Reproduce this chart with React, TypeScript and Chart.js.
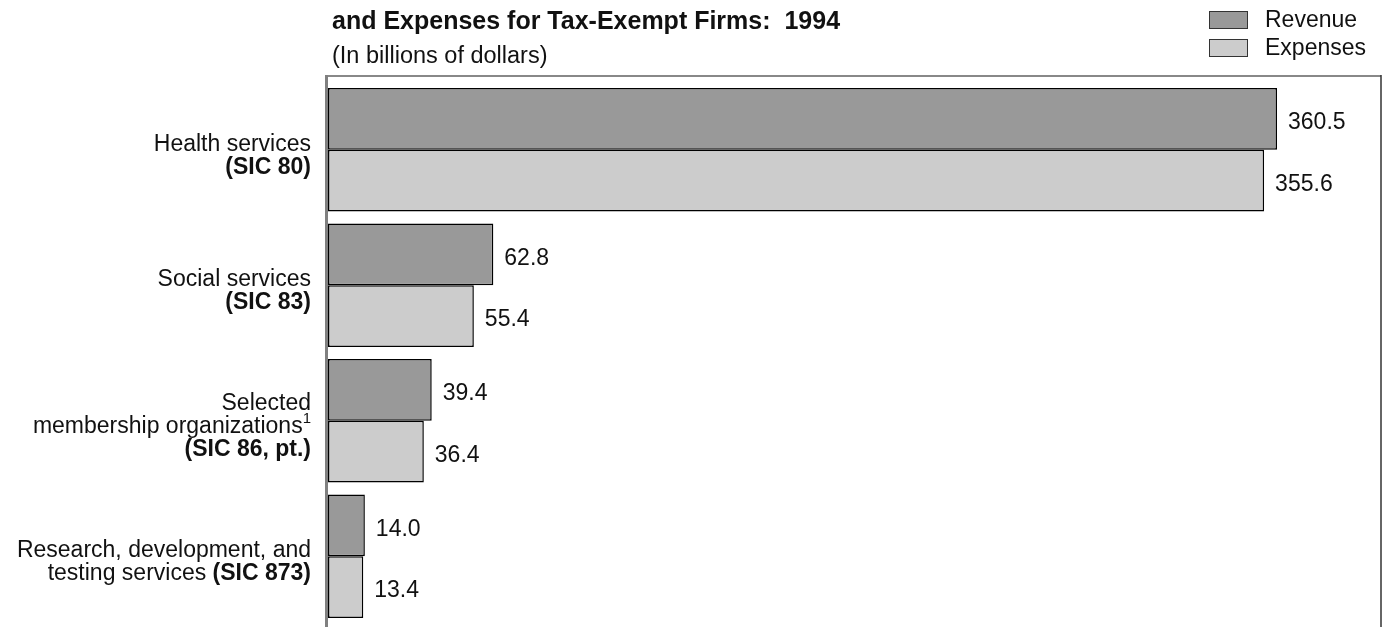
import React, { useEffect, useRef } from "react";
import { Chart, registerables } from "chart.js";

Chart.register(...registerables);

const categories = [
  "Health services (SIC 80)",
  "Social services (SIC 83)",
  "Selected membership organizations (SIC 86, pt.)",
  "Research, development, and testing services (SIC 873)",
];

// Display lines for category labels: [text, bold, superscript]
const categoryLines: [string, boolean, boolean][][][] = [
  [[["Health services", false, false]], [["(SIC 80)", true, false]]],
  [[["Social services", false, false]], [["(SIC 83)", true, false]]],
  [
    [["Selected", false, false]],
    [["membership organizations", false, false], ["1", false, true]],
    [["(SIC 86, pt.)", true, false]],
  ],
  [
    [["Research, development, and", false, false]],
    [["testing services ", false, false], ["(SIC 873)", true, false]],
  ],
];

const revenue = [360.5, 62.8, 39.4, 14.0];
const expenses = [355.6, 55.4, 36.4, 13.4];

const seriesNames = ["Revenue", "Expenses"];
const seriesColors = ["#999999", "#cccccc"];

const titleText = "and Expenses for Tax-Exempt Firms:  1994";
const subtitleText = "(In billions of dollars)";

const FONT = "'Liberation Sans', Arial, Helvetica, sans-serif";

const decorPlugin = {
  id: "decor",
  beforeDatasetsDraw(chart: any) {
    const ctx = chart.ctx;
    const a = chart.chartArea;
    const H = chart.height;
    ctx.save();
    ctx.strokeStyle = "#888888";
    ctx.lineWidth = 2;
    ctx.beginPath();
    ctx.moveTo(a.left - 2, 76);
    ctx.lineTo(a.right, 76);
    ctx.stroke();
    ctx.strokeStyle = "#333333";
    ctx.lineWidth = 1.5;
    ctx.beginPath();
    ctx.moveTo(a.right, 75);
    ctx.lineTo(a.right, H + 2);
    ctx.stroke();
    ctx.strokeStyle = "#808080";
    ctx.lineWidth = 3;
    ctx.beginPath();
    ctx.moveTo(a.left - 1.5, 75);
    ctx.lineTo(a.left - 1.5, H + 2);
    ctx.stroke();
    ctx.restore();
  },
  afterDraw(chart: any) {
    const ctx = chart.ctx;
    ctx.save();
    ctx.fillStyle = "#111111";
    ctx.textBaseline = "alphabetic";
    ctx.font = `bold 25px ${FONT}`;
    ctx.textAlign = "left";
    ctx.fillText(titleText, 332, 29);
    ctx.font = `23.5px ${FONT}`;
    ctx.fillText(subtitleText, 332, 63);

    const lx = 1209;
    chart.data.datasets.forEach((ds: any, i: number) => {
      const cy = 20 + i * 28;
      ctx.fillStyle = ds.backgroundColor;
      ctx.fillRect(lx, cy - 9, 39, 18);
      ctx.strokeStyle = "#333333";
      ctx.lineWidth = 1;
      ctx.strokeRect(lx + 0.5, cy - 8.5, 38, 17);
      ctx.fillStyle = "#111111";
      ctx.font = `23px ${FONT}`;
      ctx.textBaseline = "middle";
      ctx.fillText(ds.label, 1265, cy + 1);
    });

    ctx.font = `23px ${FONT}`;
    ctx.textBaseline = "middle";
    ctx.textAlign = "left";
    ctx.fillStyle = "#111111";
    chart.data.datasets.forEach((ds: any, di: number) => {
      const meta = chart.getDatasetMeta(di);
      meta.data.forEach((el: any, i: number) => {
        ctx.fillText(Number(ds.data[i]).toFixed(1), el.x + 11, el.y + 4);
      });
    });

    const yScale = chart.scales.y;
    const rightX = 311;
    const lineH = 23;
    categoryLines.forEach((lines, i) => {
      const cy = yScale.getPixelForTick(i) + 6;
      const n = lines.length;
      lines.forEach((segs, li) => {
        const y = cy + (li - (n - 1) / 2) * lineH;
        const widths = segs.map(([t, b, s]) => {
          ctx.font = `${b ? "bold " : ""}${s ? 15 : 23}px ${FONT}`;
          return ctx.measureText(t).width;
        });
        const total = widths.reduce((p, c) => p + c, 0);
        let x = rightX - total;
        segs.forEach(([t, b, s], si) => {
          ctx.font = `${b ? "bold " : ""}${s ? 15 : 23}px ${FONT}`;
          ctx.textAlign = "left";
          ctx.textBaseline = "middle";
          ctx.fillText(t, x, s ? y - 8 : y);
          x += widths[si];
        });
      });
    });
    ctx.restore();
  },
};

export default function App() {
  const ref = useRef<HTMLCanvasElement | null>(null);
  useEffect(() => {
    if (!ref.current) return;
    const chart = new Chart(ref.current, {
      type: "bar",
      data: {
        labels: categories,
        datasets: [
          {
            label: seriesNames[0],
            data: revenue,
            backgroundColor: seriesColors[0],
            borderColor: "#000000",
            borderWidth: 1.5,
            borderSkipped: false,
          },
          {
            label: seriesNames[1],
            data: expenses,
            backgroundColor: seriesColors[1],
            borderColor: "#000000",
            borderWidth: 1.5,
            borderSkipped: false,
          },
        ],
      },
      options: {
        indexAxis: "y",
        animation: false,
        responsive: false,
        maintainAspectRatio: false,
        events: [],
        layout: { padding: { left: 328, right: 3, top: 82, bottom: 3 } },
        datasets: { bar: { categoryPercentage: 0.91, barPercentage: 1.0 } },
        scales: {
          x: { display: false, min: 0, max: 400 },
          y: { display: false, grid: { display: false } },
        },
        plugins: {
          legend: { display: false },
          title: { display: false },
          tooltip: { enabled: false },
        },
      },
      plugins: [decorPlugin],
    });
    return () => chart.destroy();
  }, []);
  return (
    <div style={{ position: "fixed", left: 0, top: 0, width: 1384, height: 627, background: "#fff" }}>
      <canvas ref={ref} width={1384} height={627} style={{ display: "block" }} />
    </div>
  );
}
